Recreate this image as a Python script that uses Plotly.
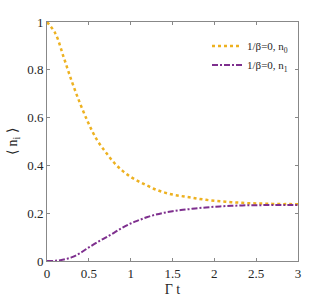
import plotly.graph_objects as go

t = [0.0, 0.1, 0.2, 0.3, 0.4, 0.5, 0.6, 0.7, 0.8, 0.9, 1.0, 1.1, 1.2, 1.3, 1.4, 1.5,
     1.6, 1.7, 1.8, 1.9, 2.0, 2.1, 2.2, 2.3, 2.4, 2.5, 2.6, 2.7, 2.8, 2.9, 3.0]
n0 = [1.000, 0.952, 0.852, 0.748, 0.655, 0.573, 0.505, 0.456, 0.412, 0.378, 0.352,
      0.332, 0.315, 0.299, 0.287, 0.278, 0.272, 0.267, 0.261, 0.256, 0.252, 0.249,
      0.246, 0.244, 0.242, 0.241, 0.240, 0.239, 0.238, 0.238, 0.237]
n1 = [0.000, 0.001, 0.006, 0.016, 0.034, 0.057, 0.078, 0.098, 0.118, 0.139, 0.157,
      0.171, 0.184, 0.194, 0.202, 0.208, 0.213, 0.217, 0.221, 0.224, 0.227, 0.229,
      0.231, 0.232, 0.233, 0.233, 0.234, 0.234, 0.234, 0.234, 0.234]
names = ["1/β=0, n<sub>0</sub>", "1/β=0, n<sub>1</sub>"]
xticks = [0, 0.5, 1, 1.5, 2, 2.5, 3]
yticks = [0, 0.2, 0.4, 0.6, 0.8, 1]

font = "Liberation Serif, Times New Roman, serif"
fig = go.Figure()
fig.add_trace(go.Scatter(x=t, y=n0, mode="lines", name=names[0], line_shape="spline",
                         line=dict(color="#EDB120", width=2.5, dash="dot")))
fig.add_trace(go.Scatter(x=t, y=n1, mode="lines", name=names[1], line_shape="spline",
                         line=dict(color="#7E2F8E", width=2, dash="6px,2px,2px,2px")))

axis_common = dict(showgrid=False, zeroline=False, showline=True, linecolor="#888888",
                   linewidth=1, mirror="ticks", ticks="inside", ticklen=3, automargin=False,
                   tickcolor="#888888", tickfont=dict(size=13, color="#262626", family=font))
fig.update_xaxes(range=[0, 3], tickvals=xticks, ticktext=[str(v) for v in xticks],
                 title=dict(text="Γ t", font=dict(size=14, color="#262626", family=font), standoff=4),
                 **axis_common)
fig.update_yaxes(range=[0, 1], tickvals=yticks, ticktext=[str(v) for v in yticks],
                 title=dict(text="⟨ n<sub>i</sub> ⟩", font=dict(size=14, color="#262626", family=font), standoff=6),
                 **axis_common)
fig.update_layout(width=330, height=299, margin=dict(l=47, r=32, t=22, b=38),
                  plot_bgcolor="white", paper_bgcolor="white",
                  font=dict(family=font, color="#262626"),
                  legend=dict(x=0.98, y=0.96, xanchor="right", yanchor="top",
                              bgcolor="rgba(0,0,0,0)", font=dict(size=11, family=font),
                              tracegroupgap=0, itemwidth=30))
fig.write_html("out.html", config={"displayModeBar": False},
               post_script="document.body.style.margin='0';document.body.style.padding='0';")
